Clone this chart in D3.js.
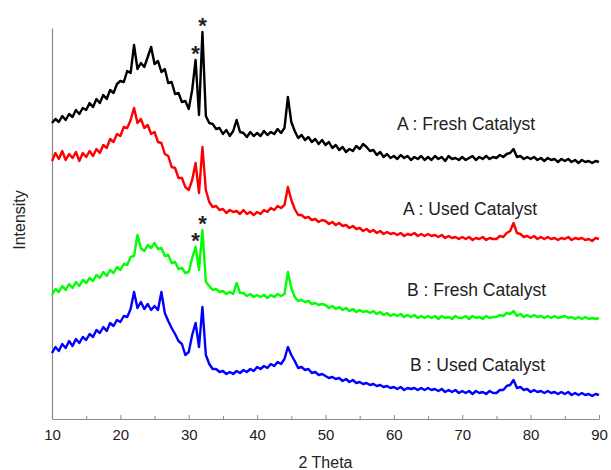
<!DOCTYPE html>
<html>
<head>
<meta charset="utf-8">
<script src="https://cdn.jsdelivr.net/npm/d3@7"></script>
<style>
  body { margin: 0; background: #fff; }
  text { font-family: "Liberation Sans", Arial, sans-serif; fill: #222; }
</style>
</head>
<body>
<div id="chart"></div>
<script>
// 2 theta grid: 10 to 90 deg, every 0.5 deg
const thetaStart = 10;
const thetaEnd = 90;
const thetaStep = 0.5;

const seriesNames = ["A : Fresh Catalyst", "A : Used Catalyst", "B : Fresh Catalyst", "B : Used Catalyst"];

// intensities (arbitrary units, curves already offset as in the figure)
const freshA = [
  296,300,297,303,299,305,302,309,305,311,
  309,316,312,320,316,324,320,329,326,335,
  338,337,348,346,374,350,356,352,362,372,
  355,358,347,350,336,337,325,326,317,318,
  310,329,359,304,387,303,296,295,290,291,
  285,289,283,288,299,287,286,282,287,283,
  286,283,288,284,287,285,290,286,291,322,
  297,288,281,284,279,282,277,280,275,279,
  274,277,271,274,269,272,267,270,268,273,
  270,275,272,268,269,264,267,262,265,261,
  263,260,264,261,263,259,262,260,263,259,
  262,259,263,260,262,258,263,260,261,259,
  262,259,261,263,259,262,260,263,260,262,
  261,264,262,265,266,270,262,263,260,262,
  260,262,259,261,258,261,259,260,257,260,
  258,260,257,259,256,259,257,258,256,258,
  257
];
const usedA = [
  258,266,260,268,259,265,261,267,258,266,
  262,268,263,270,266,274,271,280,277,285,
  283,292,291,299,311,296,300,291,294,285,
  287,277,276,265,263,252,251,241,241,232,
  229,239,256,226,272,229,217,212,213,209,
  210,206,209,207,208,205,209,205,207,204,
  207,205,209,207,211,209,213,211,214,232,
  219,210,204,204,201,202,199,200,197,199,
  198,195,197,194,196,193,194,191,193,190,
  191,188,190,187,189,186,188,185,187,185,
  186,184,186,183,185,184,186,183,185,183,
  185,183,184,182,184,181,183,181,182,180,
  182,180,182,179,181,180,182,179,181,180,
  180,183,182,186,188,196,186,185,182,183,
  181,183,180,182,180,182,180,181,179,181,
  180,182,179,181,180,181,179,180,178,181,
  180
];
const freshB = [
  124,130,127,133,129,135,131,137,133,139,
  136,141,138,144,141,147,143,149,146,152,
  149,155,154,162,163,184,171,168,174,171,
  176,170,171,163,164,156,157,150,151,146,
  147,161,172,149,189,137,133,129,130,127,
  128,125,127,125,136,126,126,123,125,122,
  124,122,124,121,124,122,125,123,125,147,
  131,122,118,119,117,118,115,116,114,115,
  114,111,113,110,112,109,111,108,110,107,
  109,107,108,106,108,105,107,104,106,103,
  105,103,105,102,104,102,104,101,103,101,
  103,101,103,100,103,101,102,100,103,101,
  101,103,100,103,101,102,100,103,101,102,
  102,104,103,106,105,108,103,105,102,104,
  102,104,102,103,101,103,101,103,101,102,
  103,101,102,100,102,100,102,100,101,100,
  101
];
const usedB = [
  66,72,68,75,71,78,73,80,76,82,
  79,85,82,89,86,92,88,96,93,99,
  97,103,102,110,127,111,117,110,115,109,
  113,109,127,106,98,91,85,78,75,64,
  67,84,96,72,112,64,55,50,50,47,
  48,45,47,45,48,46,49,47,50,48,
  52,50,53,51,55,53,57,55,60,72,
  64,58,51,52,49,50,46,47,44,45,
  43,41,42,40,41,38,40,37,39,36,
  37,35,36,34,35,33,34,32,33,31,
  32,30,32,29,31,30,31,29,31,29,
  31,29,30,28,30,27,29,27,29,26,
  28,26,28,25,28,26,27,25,28,26,
  26,29,29,33,34,39,31,32,29,30,
  27,29,27,28,26,28,26,27,25,27,
  25,27,24,26,24,26,24,25,23,25,
  24
];

// peaks marked with an asterisk: [series index, 2 theta]
const markedPeaks = [[0, 31], [0, 32], [2, 31], [2, 32]];

const xTicks = [10, 20, 30, 40, 50, 60, 70, 80, 90];
const xMinorTicks = [15, 25, 35, 45, 55, 65, 75, 85];

function draw() {
  const dimensions = {
    width: 611,
    height: 470,
    margin: { top: 28, right: 12, bottom: 51, left: 52 },
  };
  dimensions.innerWidth = dimensions.width - dimensions.margin.left - dimensions.margin.right;
  dimensions.innerHeight = dimensions.height - dimensions.margin.top - dimensions.margin.bottom;

  const theta = d3.range(thetaStart, thetaEnd + thetaStep / 2, thetaStep);
  const allSeries = [freshA, usedA, freshB, usedB];
  const colors = ["#000000", "#ff0000", "#00ff00", "#0000ff"];

  const svg = d3
    .select("#chart")
    .append("svg")
    .attr("width", dimensions.width)
    .attr("height", dimensions.height);

  const graph = svg
    .append("g")
    .attr("transform", `translate(${dimensions.margin.left}, ${dimensions.margin.top})`);

  const xScale = d3
    .scaleLinear()
    .domain([thetaStart, thetaEnd])
    .range([0, dimensions.innerWidth]);

  const yScale = d3
    .scaleLinear()
    .domain([0, 391])
    .range([dimensions.innerHeight, 0]);

  // axes
  const xAxis = graph
    .append("g")
    .attr("transform", `translate(0, ${dimensions.innerHeight})`)
    .call(
      d3.axisBottom(xScale)
        .tickValues(xTicks)
        .tickSizeInner(-4)
        .tickSizeOuter(0)
        .tickPadding(10)
    );
  xAxis.selectAll("text").style("font-size", "15px").attr("fill", "#222");

  graph
    .append("g")
    .attr("transform", `translate(0, ${dimensions.innerHeight})`)
    .call(
      d3.axisBottom(xScale)
        .tickValues(xMinorTicks)
        .tickSizeInner(-3)
        .tickSizeOuter(0)
        .tickFormat("")
    )
    .select(".domain")
    .remove();

  const yAxis = graph
    .append("g")
    .call(d3.axisLeft(yScale).tickValues([]).tickSizeOuter(0));

  svg.selectAll(".domain").attr("stroke", "#8a8a8a").attr("stroke-width", 1.2);
  svg.selectAll(".tick line").attr("stroke", "#8a8a8a");

  // curves
  const lineGenerator = d3
    .line()
    .x((d) => xScale(d[0]))
    .y((d) => yScale(d[1]));

  allSeries.forEach((values, i) => {
    graph
      .append("path")
      .datum(theta.map((t, j) => [t, values[j]]))
      .attr("d", lineGenerator)
      .attr("fill", "none")
      .attr("stroke", colors[i])
      .attr("stroke-width", 2.4)
      .attr("stroke-linejoin", "round");
  });

  // asterisks above the marked peaks
  markedPeaks.forEach(([s, t]) => {
    const j = Math.round((t - thetaStart) / thetaStep);
    graph
      .append("text")
      .attr("x", xScale(t))
      .attr("y", yScale(allSeries[s][j]) + 1)
      .attr("text-anchor", "middle")
      .style("font-size", "22px")
      .style("font-weight", "bold")
      .attr("fill", "#222")
      .text("*");
  });

  // series labels
  const labelPos = [[397, 130], [403, 215], [407, 296], [410, 371]];
  seriesNames.forEach((name, i) => {
    svg
      .append("text")
      .attr("x", labelPos[i][0])
      .attr("y", labelPos[i][1])
      .style("font-size", "17.5px")
      .text(name);
  });

  // axis titles
  svg
    .append("text")
    .attr("x", dimensions.margin.left + dimensions.innerWidth / 2)
    .attr("y", 468)
    .attr("text-anchor", "middle")
    .style("font-size", "16px")
    .text("2 Theta");

  svg
    .append("text")
    .attr("transform", "translate(25, 220) rotate(-90)")
    .attr("text-anchor", "middle")
    .style("font-size", "16px")
    .text("Intensity");
}

draw();
</script>
</body>
</html>
